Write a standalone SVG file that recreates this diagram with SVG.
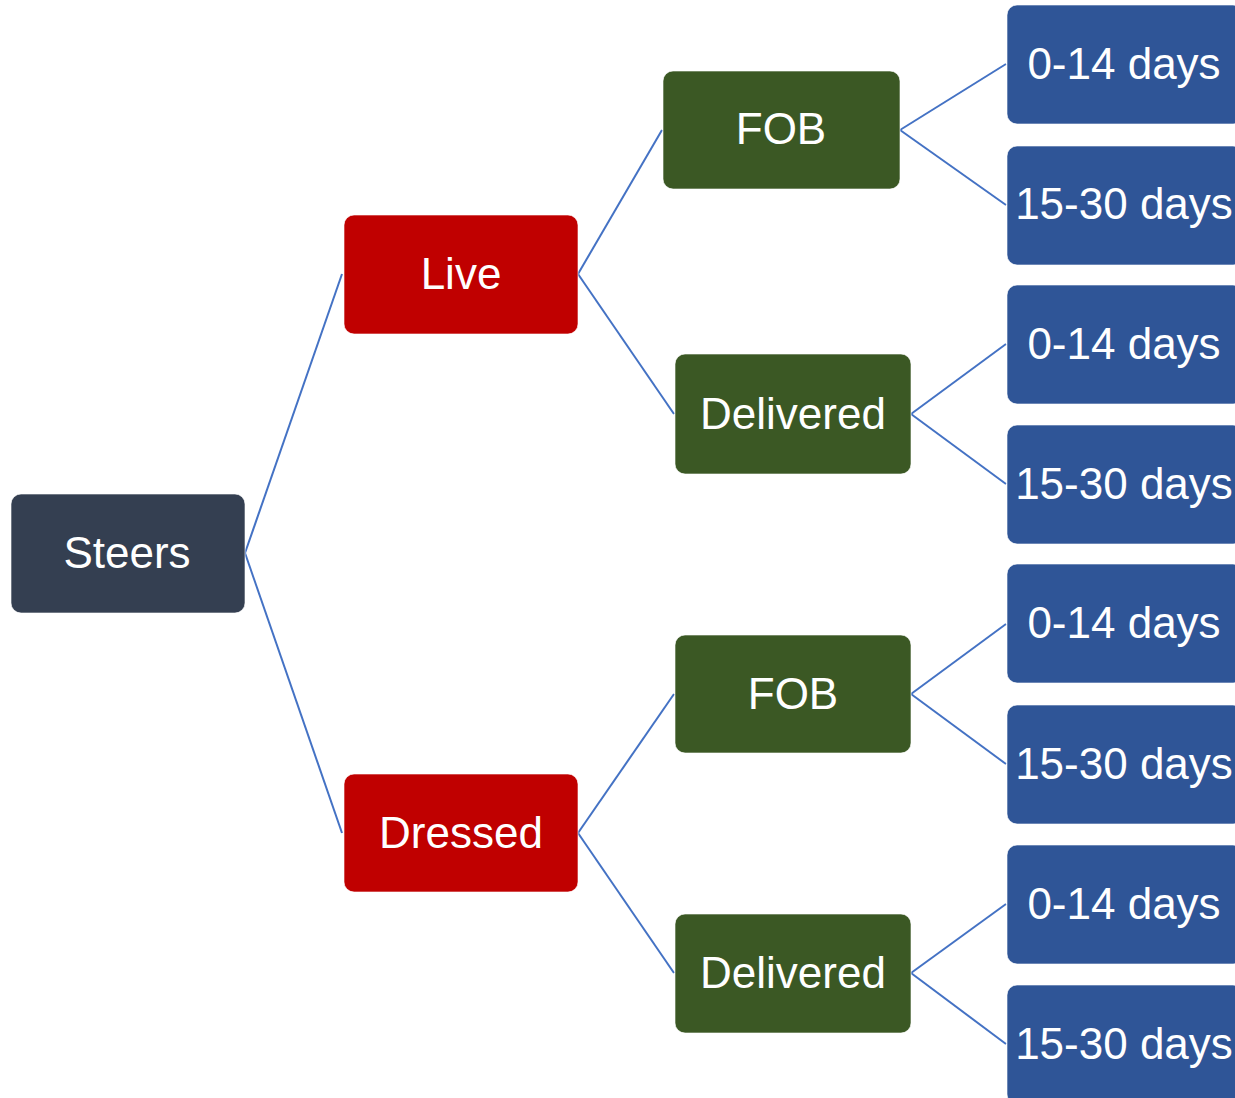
<svg xmlns="http://www.w3.org/2000/svg" width="1235" height="1098" viewBox="0 0 1235 1098">
<style>
.n rect{stroke:#ffffff;stroke-opacity:0.6;stroke-width:1}
.n text{font-family:"Liberation Sans",Arial,sans-serif;font-size:44px;fill:#ffffff;text-anchor:middle}
.root rect{fill:#343F51}
.l2 rect{fill:#C00000}
.l3 rect{fill:#3B5824}
.l4 rect{fill:#2F5597}
#connectors line{stroke:#4472C4;stroke-width:2;fill:none}
</style>
<rect width="1235" height="1098" fill="#ffffff"/>
<g id="connectors">
<line x1="245" y1="553" x2="342" y2="274"/>
<line x1="245" y1="553" x2="342" y2="833"/>
<line x1="578" y1="274" x2="662" y2="130"/>
<line x1="578" y1="274" x2="674" y2="414"/>
<line x1="578" y1="833" x2="674" y2="694"/>
<line x1="578" y1="833" x2="674" y2="973"/>
<line x1="900" y1="130" x2="1006" y2="64"/>
<line x1="900" y1="130" x2="1006" y2="205"/>
<line x1="911" y1="414" x2="1006" y2="344"/>
<line x1="911" y1="414" x2="1006" y2="484"/>
<line x1="911" y1="694" x2="1006" y2="624"/>
<line x1="911" y1="694" x2="1006" y2="764"/>
<line x1="911" y1="973" x2="1006" y2="904"/>
<line x1="911" y1="973" x2="1006" y2="1044"/>
</g>
<g id="steers" class="n root"><rect x="11" y="494" width="234" height="119" rx="10"/><text x="127" y="568">Steers</text></g>
<g id="live" class="n l2"><rect x="344" y="215" width="234" height="119" rx="10"/><text x="461" y="289">Live</text></g>
<g id="dressed" class="n l2"><rect x="344" y="774" width="234" height="118" rx="10"/><text x="461" y="848">Dressed</text></g>
<g id="fob1" class="n l3"><rect x="663" y="71" width="237" height="118" rx="10"/><text x="781" y="144">FOB</text></g>
<g id="delivered1" class="n l3"><rect x="675" y="354" width="236" height="120" rx="10"/><text x="793" y="429">Delivered</text></g>
<g id="fob2" class="n l3"><rect x="675" y="635" width="236" height="118" rx="10"/><text x="793" y="709">FOB</text></g>
<g id="delivered2" class="n l3"><rect x="675" y="914" width="236" height="119" rx="10"/><text x="793" y="988">Delivered</text></g>
<g id="d1a" class="n l4"><rect x="1007" y="5" width="236" height="119" rx="10"/><text x="1124" y="79">0-14 days</text></g>
<g id="d1b" class="n l4"><rect x="1007" y="146" width="236" height="119" rx="10"/><text x="1124" y="219">15-30 days</text></g>
<g id="d2a" class="n l4"><rect x="1007" y="285" width="236" height="119" rx="10"/><text x="1124" y="359">0-14 days</text></g>
<g id="d2b" class="n l4"><rect x="1007" y="425" width="236" height="119" rx="10"/><text x="1124" y="499">15-30 days</text></g>
<g id="d3a" class="n l4"><rect x="1007" y="564" width="236" height="119" rx="10"/><text x="1124" y="638">0-14 days</text></g>
<g id="d3b" class="n l4"><rect x="1007" y="705" width="236" height="119" rx="10"/><text x="1124" y="779">15-30 days</text></g>
<g id="d4a" class="n l4"><rect x="1007" y="845" width="236" height="119" rx="10"/><text x="1124" y="919">0-14 days</text></g>
<g id="d4b" class="n l4"><rect x="1007" y="985" width="236" height="119" rx="10"/><text x="1124" y="1059">15-30 days</text></g>
</svg>
